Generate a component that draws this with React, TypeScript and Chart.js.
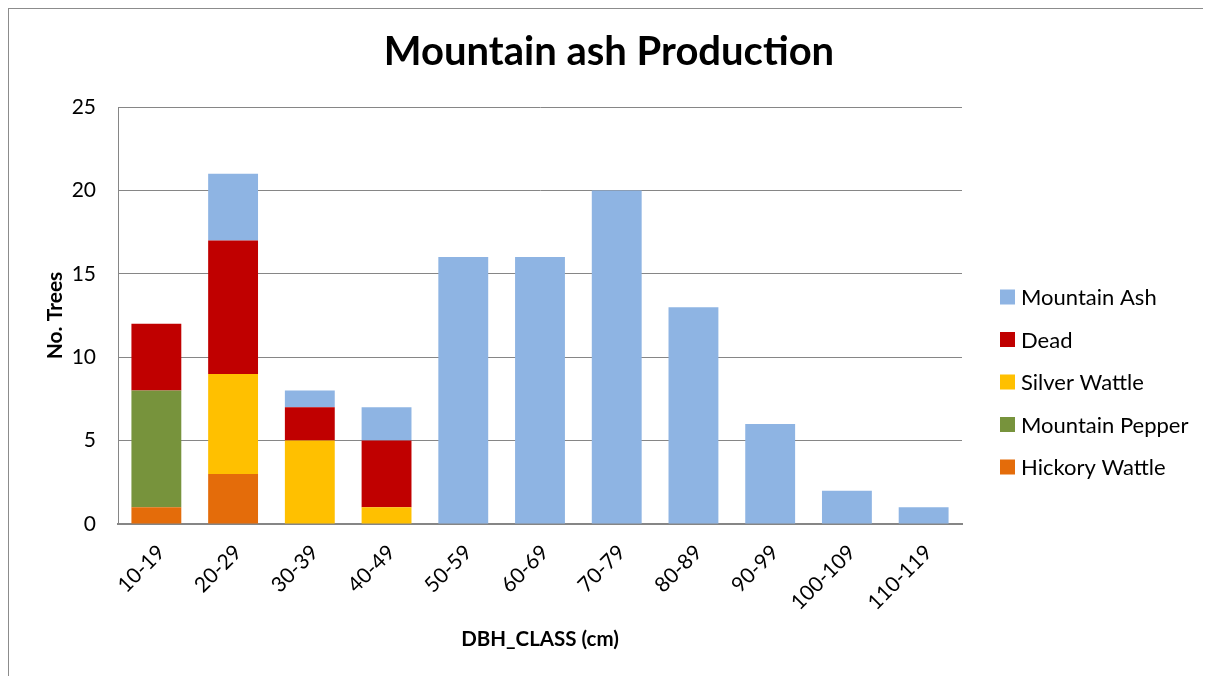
import React, { useEffect, useRef } from "react";
import { Chart, registerables } from "chart.js";

Chart.register(...registerables);

const categories = ["10-19", "20-29", "30-39", "40-49", "50-59", "60-69", "70-79", "80-89", "90-99", "100-109", "110-119"];
const hickoryWattle = [1, 3, 0, 0, 0, 0, 0, 0, 0, 0, 0];
const mountainPepper = [7, 0, 0, 0, 0, 0, 0, 0, 0, 0, 0];
const silverWattle = [0, 6, 5, 1, 0, 0, 0, 0, 0, 0, 0];
const dead = [4, 8, 2, 4, 0, 0, 0, 0, 0, 0, 0];
const mountainAsh = [0, 4, 1, 2, 16, 16, 20, 13, 6, 2, 1];
const yTickValues = [0, 5, 10, 15, 20, 25];

const chartTitle = "Mountain ash Production";
const xTitle = "DBH_CLASS (cm)";
const yTitle = "No. Trees";

const FONT = "Lato, 'Open Sans', sans-serif";
const GRID = "#868686";

const W = 1202;
const H = 667;
const AREA = { left: 109, right: 953, top: 98, bottom: 515 };

const overlayPlugin = {
  id: "overlay",
  afterDraw(chart: any) {
    const ctx = chart.ctx as CanvasRenderingContext2D;
    ctx.save();
    // title
    ctx.fillStyle = "#000";
    ctx.font = `bold 40px ${FONT}`;
    ctx.textAlign = "center";
    ctx.textBaseline = "middle";
    ctx.fillText(chartTitle, 600, 43);
    // legend
    const ds = chart.data.datasets.slice().reverse();
    const rowY0 = 288;
    const rowGap = 42.5;
    ctx.font = `22px ${FONT}`;
    ctx.textAlign = "left";
    ds.forEach((d: any, i: number) => {
      const cy = rowY0 + i * rowGap;
      ctx.fillStyle = d.backgroundColor;
      ctx.fillRect(991, cy - 7.5, 15, 15);
      ctx.fillStyle = "#000";
      ctx.fillText(d.label, 1012, cy + 1);
    });
    ctx.restore();
  },
};

export default function App() {
  const ref = useRef<HTMLCanvasElement | null>(null);

  useEffect(() => {
    if (!ref.current) return;
    const chart = new Chart(ref.current, {
      type: "bar",
      data: {
        labels: categories,
        datasets: [
          { label: "Hickory Wattle", data: hickoryWattle, backgroundColor: "#E46C0A" },
          { label: "Mountain Pepper", data: mountainPepper, backgroundColor: "#77933C" },
          { label: "Silver Wattle", data: silverWattle, backgroundColor: "#FFC000" },
          { label: "Dead", data: dead, backgroundColor: "#C00000" },
          { label: "Mountain Ash", data: mountainAsh, backgroundColor: "#8EB4E3" },
        ],
      },
      options: {
        responsive: false,
        animation: false,
        devicePixelRatio: 1,
        layout: { padding: { top: AREA.top, right: W - AREA.right, left: 0, bottom: 0 } },
        datasets: { bar: { barPercentage: 0.65, categoryPercentage: 1, borderWidth: 0 } },
        plugins: {
          legend: { display: false },
          title: { display: false },
          tooltip: { enabled: false },
        },
        scales: {
          x: {
            stacked: true,
            grid: { display: false, drawTicks: false },
            border: { display: true, color: GRID, width: 2 },
            ticks: {
              color: "#000",
              font: { family: FONT, size: 21 },
              minRotation: 45,
              maxRotation: 45,
              padding: 16,
              labelOffset: 5,
              autoSkip: false,
            },
            title: {
              display: true,
              text: xTitle,
              color: "#000",
              font: { family: FONT, size: 20.5, weight: "bold" },
              padding: { top: 0, bottom: 24 },
            },
            afterFit(scale: any) {
              scale.height = H - AREA.bottom;
            },
          },
          y: {
            stacked: true,
            min: 0,
            max: 25,
            afterBuildTicks(scale: any) {
              scale.ticks = yTickValues.map((v) => ({ value: v }));
            },
            grid: { color: GRID, lineWidth: 1, drawTicks: false },
            border: { display: true, color: GRID, width: 1 },
            ticks: {
              color: "#000",
              font: { family: FONT, size: 21 },
              padding: 22,
            },
            title: {
              display: true,
              text: yTitle,
              color: "#000",
              font: { family: FONT, size: 21, weight: "bold" },
              padding: { top: 34, bottom: 0 },
            },
            afterFit(scale: any) {
              scale.width = AREA.left;
            },
          },
        },
      },
      plugins: [overlayPlugin],
    } as any);
    return () => chart.destroy();
  }, []);

  return (
    <div
      style={{
        width: W,
        height: H,
        borderTop: "1px solid #8c8c8c",
        borderLeft: "1px solid #8c8c8c",
        background: "#fff",
        overflow: "hidden",
      }}
    >
      <canvas ref={ref} width={W} height={H} style={{ display: "block", width: W, height: H }} />
    </div>
  );
}
